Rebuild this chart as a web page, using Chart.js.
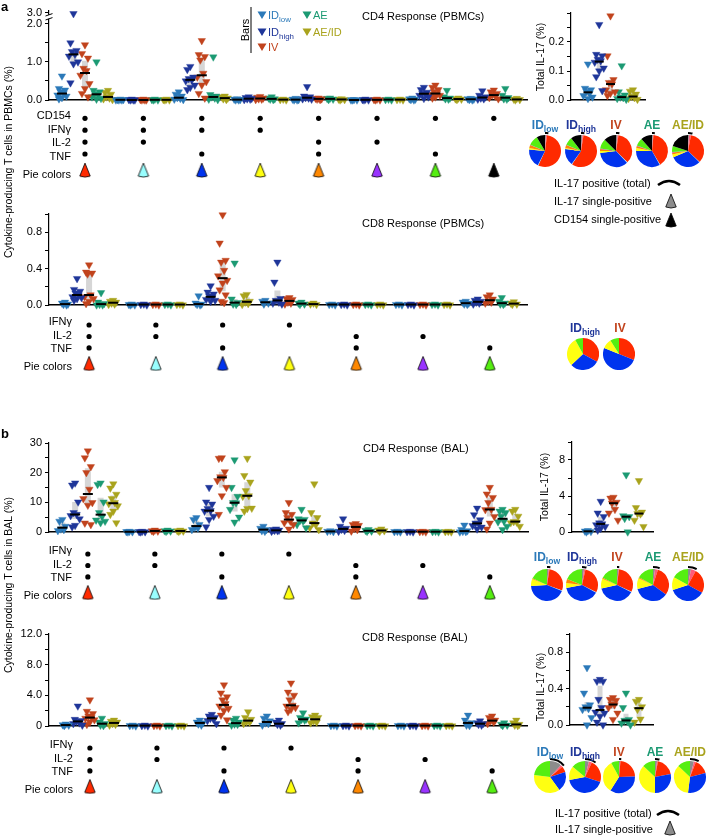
<!DOCTYPE html>
<html><head><meta charset="utf-8">
<script src="https://cdn.jsdelivr.net/npm/chart.js@4.4.1/dist/chart.umd.min.js"></script>
<style>
html,body{margin:0;padding:0;background:#fff}
#root{position:relative;width:706px;height:836px;overflow:hidden;font-family:'Liberation Sans',Arial,Helvetica,sans-serif;color:#000}
#root canvas{position:absolute}
.t{position:absolute;white-space:nowrap;font-size:11px;line-height:13px;z-index:5}
.t sub{font-size:0.72em;vertical-align:baseline;position:relative;top:0.32em;line-height:0}
#glyphs{position:absolute;left:0;top:0;z-index:4}
</style></head><body><div id="root"></div>
<script>
// ================= DATA =================
const seriesNames = ['IDlow', 'IDhigh', 'IV', 'AE', 'AE/ID'];
const seriesLabelsHtml = ['ID<sub>low</sub>', 'ID<sub>high</sub>', 'IV', 'AE', 'AE/ID'];
const seriesColors = ['#2b79b9', '#1f3699', '#c1431d', '#1c9a73', '#a9a31d'];

const cd4Markers = ['CD154', 'IFNγ', 'IL-2', 'TNF'];
const cd8Markers = ['IFNγ', 'IL-2', 'TNF'];
const cd4Combos = [[1,1,1,1],[1,1,1,0],[1,1,0,1],[1,1,0,0],[1,0,1,1],[1,0,1,0],[1,0,0,1],[1,0,0,0]];
const cd8Combos = [[1,1,1],[1,1,0],[1,0,1],[1,0,0],[0,1,1],[0,1,0],[0,0,1]];
const comboColors = ['#ff2a00', '#99ffff', '#0033ee', '#ffff11', '#ff8800', '#9933ff', '#55ee11', '#000000'];
const il17SingleColor = '#8c8c8c';
const il17OtherColor = '#ff5a7a';
// slice order: IL-17 single, other IL-17+, then the 8 combination colours
const pieSliceColors = [il17SingleColor, il17OtherColor, ...comboColors];

// ---- CD4 response, PBMCs (8 combinations) ----
const cd4pbmcIDlow = [[0.63,0.30,0.26,0.22,0.17,0.13,0.10,0.06,0.03],[0.02,0.01,0.01,0,0,0],[0.21,0.15,0.10,0.06,0.04,0.02,0.01],[0.03,0.02,0.01,0,0],[0.04,0.02,0.01,0,0],[0.01,0,0,0],[0.05,0.03,0.02,0.01,0],[0.04,0.03,0.02,0.01,0]];
const cd4pbmcIDhigh = [[2.9,1.5,1.3,1.27,1.2,1.15,1.0,0.95,0.45],[0.02,0.01,0,0,0],[0.88,0.8,0.6,0.56,0.53,0.5,0.39,0.33,0.27],[0.08,0.06,0.04,0.03,0.02,0.01],[0.35,0.1,0.08,0.06,0.05,0.03,0.02],[0.02,0.01,0,0],[0.33,0.27,0.2,0.17,0.16,0.12,0.08,0.04],[0.24,0.12,0.08,0.05,0.03,0.02]];
const cd4pbmcIV = [[1.45,1.22,1.1,0.83,0.77,0.65,0.43,0.3,0.17,0.08],[0.02,0.01,0,0,0],[1.56,1.19,1.14,1.05,0.7,0.6,0.48,0.39,0.17,0.05],[0.09,0.07,0.05,0.03,0.02,0.01],[0.05,0.04,0.03,0.02,0.01],[0.02,0.01,0,0],[0.39,0.33,0.27,0.22,0.17,0.15,0.12,0.08,0.05],[0.26,0.21,0.17,0.13,0.1,0.06,0.03]];
const cd4pbmcAE = [[1.0,0.25,0.21,0.17,0.13,0.08,0.04,0.02],[0.02,0.01,0,0],[1.13,0.14,0.1,0.08,0.05,0.02,0.01],[0.08,0.05,0.03,0.02,0.01],[0.05,0.04,0.02,0.01],[0.02,0.01,0],[0.25,0.08,0.05,0.03,0.02],[0.3,0.12,0.06,0.03,0.02]];
const cd4pbmcAEID = [[0.25,0.2,0.15,0.08,0.05,0.03,0.01],[0.02,0.01,0,0],[0.1,0.08,0.05,0.03,0.01],[0.02,0.01,0],[0.03,0.02,0.01,0],[0.02,0.01,0],[0.05,0.03,0.02,0.01],[0.04,0.02,0.01,0]];
const cd4pbmcTicks = [0, 0.5, 1, 1.5, 2, 3];
const cd4pbmcTickVals = [0, 1, 2, 3];
const cd4pbmcTickLabels = ['0.0', '1.0', '2.0', '3.0'];

// ---- CD4 PBMC total IL-17 ----
const il17cd4pbmc = [[0.124,0.04,0.035,0.03,0.023,0.015,0.01,0.005],[0.26,0.157,0.152,0.14,0.135,0.13,0.11,0.1,0.08,0.032],[0.29,0.152,0.07,0.06,0.055,0.035,0.028,0.023,0.015],[0.118,0.028,0.017,0.01,0.008,0.005,0.002],[0.035,0.03,0.02,0.012,0.008,0.005,0.002]];
const il17cd4pbmcStep = 0.05;
const il17cd4pbmcTickVals = [0, 0.1, 0.2];
const il17cd4pbmcTickLabels = ['0.0', '0.1', '0.2'];

// ---- CD4 PBMC pies (per group: IL17 single, IL17 other, red, cyan, blue, yellow, orange, purple, green, black) ----
const cd4pbmcPies = [[1,1,55,0.5,19,1.5,3,0.5,10,8.5],[1.5,1,57,0.5,17,1,3,0.5,8,10.5],[1.5,1,35,0.5,35,2,2,0.5,10,12.5],[1,0.5,40,0.5,33,3,2,0.5,8,11.5],[1,2,34,0.5,31,3,2,0.5,6,20]];
const cd4pbmcIL17Total = [3, 3, 3, 2.5, 4];

// ---- CD8 response, PBMCs (7 combinations) ----
const cd8pbmcIDlow = [[0.03,0.02,0.01,0.005,0],[0.01,0.005,0,0],[0.1,0.02,0.01,0.005,0],[0.05,0.04,0.02,0.01],[0.01,0.005,0],[0.01,0.005,0],[0.04,0.03,0.02,0.01,0.005]];
const cd8pbmcIDhigh = [[0.29,0.17,0.15,0.13,0.11,0.09,0.08,0.07,0.05],[0.01,0.005,0],[0.21,0.14,0.12,0.1,0.08,0.06,0.05,0.04],[0.47,0.25,0.07,0.05,0.03,0.02,0.01],[0.01,0.005,0],[0.01,0.005,0],[0.065,0.05,0.04,0.03,0.02,0.01]];
const cd8pbmcIV = [[0.44,0.36,0.35,0.34,0.11,0.09,0.07,0.04,0.015],[0.01,0.005,0],[0.99,0.68,0.49,0.47,0.38,0.32,0.27,0.24,0.165,0.11,0.04,0.025],[0.08,0.07,0.06,0.03,0.02,0.01],[0.01,0.005,0],[0.01,0.005,0],[0.11,0.09,0.065,0.04,0.03,0.02]];
const cd8pbmcAE = [[0.135,0.03,0.015,0.005,0,0],[0.01,0.005,0],[0.46,0.065,0.026,0.01,0.005],[0.03,0.02,0.01,0.005],[0.01,0.005,0],[0.01,0.005,0],[0.08,0.04,0.02,0.01,0.005]];
const cd8pbmcAEID = [[0.05,0.04,0.03,0.02,0.01,0.005],[0.01,0.005,0],[0.115,0.1,0.04,0.03,0.015,0.005],[0.02,0.01,0.005],[0.01,0.005,0],[0.01,0.005,0],[0.035,0.02,0.01,0.005]];
const cd8pbmcStep = 0.2;
const cd8pbmcTickVals = [0, 0.4, 0.8];
const cd8pbmcTickLabels = ['0.0', '0.4', '0.8'];
const cd8pbmcPieSeries = [1, 2];
const cd8pbmcPies = [[0,0,33,0,30,29,0,0,8,0],[0,0,31,0,50,10,0,0,9,0]];

// ---- CD4 response, BAL ----
const cd4balIDlow = [[4.2,3.6,1.9,1.0,0.8,0.45],[0.2,0.1,0.05,0],[4.8,4.2,2.5,1.5,1.3,0.8],[1.9,1.2,0.8,0.4,0.2],[0.4,0.2,0.1],[0.2,0.1,0],[2.3,0.8,0.4,0.2,0.1,0]];
const cd4balIDhigh = [[16.5,15.8,10.1,6.5,5.9,5.5,4.4,2.2,1.7],[0.2,0.1,0.05,0],[15,10.1,9.4,7.9,7.2,7,5.3,4.2,1.7],[1.0,0.8,0.6,0.5,0.4,0.2],[4.4,1.9,1.2,0.9,0.5,0.2],[0.2,0.1,0],[8,5.8,4.1,3,2.8,2.1,1.6,1]];
const cd4balIV = [[27.3,25,22,20,14.4,11.2,9.9,9,3,2.5],[0.6,0.4,0.3,0.2],[25,24.8,20.3,18.6,18.4,17.3,15,12.2,5.9],[9.9,6.5,5.9,4.8,3.6,3.1,2.5,1],[2.8,2.5,2.2,1.2,0.8,0.3],[0.2,0.1,0],[15,12.8,11.6,9.9,7.6,7.5,5.2,3,1]];
const cd4balAE = [[16.5,16,10.1,6.5,5.2,4,3.6,3.1],[0.6,0.4,0.3,0.2],[24.3,15,12,9.9,9.8,7.6,5,3.3],[7.6,4.4,4.2,3.9,3.6,2.5,1.4],[0.8,0.5,0.3,0.2],[0.2,0.1,0],[7.6,7,6.5,5.3,3.6,3.4,1.9,0.8]];
const cd4balAEID = [[16.2,14.8,12.7,11.2,9.9,9.5,8.8,7,5.9,3.1],[0.6,0.4,0.3,0.2],[24.8,19,16.8,13.9,12.2,12,8,7.9,7],[16.2,6.5,4.8,3,2.4,1.4,0.8],[1.0,0.6,0.4,0.2],[0.2,0.1,0],[7.6,7,5.3,3.5,3.3,3.1,1.9]];
const cd4balStep = 5;
const cd4balTickVals = [0, 10, 20, 30];
const cd4balTickLabels = ['0', '10', '20', '30'];
const il17cd4bal = [[0.15,0.1,0.05,0],[3.4,2.1,1.7,1.0,0.9,0.8,0.6,0.4,0.2],[3.85,3.75,3.3,3.2,2.5,2.1,1.3],[6.35,1.8,1.7,1.5,0],[5.7,2.7,2.2,2.05,2.0,1.3,0.6]];
const il17cd4balStep = 2;
const il17cd4balTickVals = [0, 4, 8];
const il17cd4balTickLabels = ['0', '4', '8'];
const cd4balPies = [[1.5,1,28,0.5,43,7,1,0,18,0],[2,1.5,29,0.5,39,5,4,0,19,0],[1.5,0.5,30,0.5,39,10,1,0,17.5,0],[2,3,30,0,36,11,1,0,17,0],[3,5,25,0,37,13,0,0,17,0]];
const cd4balIL17Total = [3, 4, 2, 6, 8];

// ---- CD8 response, BAL ----
const cd8balIDlow = [[0.25,0.15,0.1,0.05],[0.1,0.05,0],[0.75,0.5,0.4,0.25,0.1],[1.3,1.0,0.65,0.4,0.3,0.1],[0.1,0.05,0],[0.1,0.05,0],[1.4,0.75,0.4,0.1,0.05]];
const cd8balIDhigh = [[2.6,0.85,0.7,0.6,0.4,0.3,0.1],[0.1,0.05,0],[1.5,1.3,1.1,1.0,0.9,0.7,0.3],[0.75,0.5,0.3,0.2,0.1],[0.1,0.05,0],[0.1,0.05,0],[0.65,0.4,0.3,0.2,0.1]];
const cd8balIV = [[3.4,1.9,1.6,1.3,1.1,1.0,0.8,0.5,0.2],[0.1,0.05,0],[5.35,4.3,3.8,3.4,2.9,2.6,2.3,2.0,1.4,0.8],[5.6,4.4,4.0,3.4,2.7,2.6,2.4,2.15,1.85],[0.1,0.05,0],[0.1,0.05,0],[1.3,1.1,0.75,0.65,0.5,0.3]];
const cd8balAE = [[1.0,0.5,0.3,0.1,0.05],[0.1,0.05,0],[1.0,0.75,0.5,0.25,0.2,0.1],[1.7,1.1,0.9,0.85,0.75,0.4],[0.1,0.05,0],[0.1,0.05,0],[0.4,0.2,0.1,0.05]];
const cd8balAEID = [[0.75,0.6,0.5,0.3,0.2,0.1],[0.1,0.05,0],[1.85,1.1,0.85,0.55,0.5,0.3],[1.4,1.2,1.1,0.65,0.5,0.4],[0.1,0.05,0],[0.1,0.05,0],[0.75,0.4,0.2,0.1,0.05]];
const cd8balStep = 2;
const cd8balTickVals = [0, 4, 8, 12];
const cd8balTickLabels = ['0', '4.0', '8.0', '12.0'];
const il17cd8bal = [[0.63,0.35,0.22,0.2,0.18,0.17,0.08,0.0],[0.5,0.48,0.48,0.28,0.19,0.14,0.13,0.095,0.03,0.0],[0.3,0.28,0.27,0.23,0.22,0.19,0.13,0.06],[0.35,0.19,0.06,0.05,0.04,0.02,0.0],[0.28,0.26,0.2,0.17,0.065,0.03]];
const il17cd8balStep = 0.2;
const il17cd8balTickVals = [0, 0.4, 0.8];
const il17cd8balTickLabels = ['0.0', '0.4', '0.8'];
const cd8balPies = [[12,2,6,0,20,37,0,0,23,0],[4,3,23,0,42,14,0,0,14,0],[1,0.5,23,0,34.5,33,0,0,8,0],[2,1,19,0,28,37,0,0,13,0],[4,2,15,0,31,35,0,0,13,0]];
const cd8balIL17Total = [14, 10, 2, 4, 8];

// ================= SETUP =================
const FONT = "'Liberation Sans', Arial, Helvetica, sans-serif";
Chart.defaults.font.family = FONT;
Chart.defaults.font.size = 11;
Chart.defaults.color = '#000';
Chart.defaults.animation = false;
Chart.defaults.events = [];
Chart.defaults.plugins.legend.display = false;
Chart.defaults.plugins.tooltip.enabled = false;

// broken linear axis: values above BREAK are compressed
const BREAK_AT = 2, BREAK_K = 0.3;
class BrokenScale extends Chart.LinearScale {
  getPixelForValue(v) { return super.getPixelForValue(v == null ? v : (v <= BREAK_AT ? v : BREAK_AT + (v - BREAK_AT) * BREAK_K)); }
  getValueForPixel(p) { const t = super.getValueForPixel(p); return t <= BREAK_AT ? t : BREAK_AT + (t - BREAK_AT) / BREAK_K; }
}
BrokenScale.id = 'broken';
BrokenScale.defaults = Chart.LinearScale.defaults;
Chart.register(BrokenScale);

const root = document.getElementById('root');
function canvasAt(x, y, w, h) {
  const c = document.createElement('canvas');
  w = Math.round(w); h = Math.round(h);
  c.width = w; c.height = h;
  c.style.left = x + 'px'; c.style.top = y + 'px';
  c.style.width = w + 'px'; c.style.height = h + 'px';
  root.appendChild(c);
  return c;
}
function txt(html, x, y, o = {}) {
  const d = document.createElement('div');
  d.className = 't'; d.innerHTML = html;
  d.style.left = x + 'px'; d.style.top = y + 'px';
  if (o.size) d.style.fontSize = o.size + 'px';
  if (o.bold) d.style.fontWeight = 'bold';
  if (o.color) d.style.color = o.color;
  const ax = o.align === 'center' ? '-50%' : o.align === 'right' ? '-100%' : '0';
  d.style.transform = `translate(${ax},-50%)` + (o.rot ? ` rotate(${o.rot}deg)` : '');
  root.appendChild(d);
}
function quantile(sorted, q) {
  const pos = (sorted.length - 1) * q, lo = Math.floor(pos), hi = Math.ceil(pos);
  return sorted[lo] + (sorted[hi] - sorted[lo]) * (pos - lo);
}
function tickList(max, step) {
  const a = [];
  for (let i = 0; i * step <= max + 1e-9; i++) a.push(+(i * step).toFixed(6));
  return a;
}
const JITTER_PX = [0, -3, 3, -1.5, 1.5, -4.5, 4.5, 0, -3, 3, -1.5, 1.5];

function wedgeCanvas(color) {
  const c = document.createElement('canvas');
  c.width = 14; c.height = 16;
  const g = c.getContext('2d');
  const ax = 7, ay = 1, R = 14, a = 22 * Math.PI / 180;
  g.beginPath(); g.moveTo(ax, ay);
  g.arc(ax, ay, R, Math.PI / 2 + a, Math.PI / 2 - a, true);
  g.closePath();
  g.fillStyle = color; g.fill();
  g.lineWidth = 0.8; g.strokeStyle = '#000'; g.stroke();
  return c;
}

function dotPanel(o) {
  const PT = 12, PB = 12, PR = 12;
  const left = o.area.l - o.axisW;
  const cv = canvasAt(left, o.area.t - PT, o.area.r - left + PR, o.area.b - o.area.t + PT + PB);
  const ppu = (o.area.r - o.area.l) / (o.xMax - o.xMin);
  const datasets = [], med = [], bars = [];
  o.groups.forEach((grp, s) => {
    const pts = [];
    grp.forEach((vals, g) => {
      const cx = g + (s - 2) * o.colStep;
      vals.forEach((v, k) => pts.push({ x: cx + JITTER_PX[k % JITTER_PX.length] / ppu, y: v }));
      const sorted = [...vals].sort((a, b) => a - b);
      med.push({ x: cx, y: quantile(sorted, 0.5) });
      bars.push({ x: cx, y: quantile(sorted, 0.25) }, { x: cx, y: quantile(sorted, 0.75) }, { x: cx, y: null });
    });
    datasets.push({ type: 'scatter', data: pts, order: 1, clip: false, pointStyle: 'triangle', pointRotation: 180,
      pointRadius: 4.3, pointBackgroundColor: seriesColors[s], pointBorderColor: seriesColors[s], pointBorderWidth: 0.4 });
  });
  datasets.push({ type: 'scatter', data: med, order: 0, clip: false, pointStyle: 'line', pointRadius: o.medR || 5,
    pointBorderColor: '#000', pointBorderWidth: 2 });
  datasets.push({ type: 'line', data: bars, order: 2, clip: false, showLine: true, spanGaps: false,
    borderColor: '#d6d6d6', borderWidth: o.barW || 6, borderCapStyle: 'butt', pointRadius: 0, tension: 0 });
  const axisW = o.axisW;
  new Chart(cv, {
    type: 'scatter',
    data: { datasets },
    options: {
      responsive: false,
      layout: { padding: { top: PT, bottom: PB, right: PR, left: 0 } },
      scales: {
        x: { type: 'linear', min: o.xMin, max: o.xMax, afterFit: s => { s.height = 0; },
          ticks: { display: false }, grid: { display: false, drawTicks: false },
          border: { display: true, color: '#000', width: 1.6 } },
        y: { type: o.yType || 'linear', min: 0, max: o.yMax, bounds: 'data',
          afterBuildTicks: s => { s.ticks = o.ticks.map(v => ({ value: v })); },
          afterFit: s => { s.width = axisW; },
          ticks: { autoSkip: false, padding: 3, font: { size: 11 }, color: '#000',
            callback: v => { const i = o.tickVals.findIndex(u => Math.abs(u - v) < 1e-9); return i >= 0 ? o.tickLabels[i] : ''; } },
          grid: { display: true, drawOnChartArea: false, drawTicks: true, tickLength: 4, color: '#000', lineWidth: 1 },
          border: { display: true, color: '#000', width: 1.2 } }
      }
    },
    plugins: o.plugins || []
  });
}

const PIE_ROW_GAP = 1.35;
function matrixPanel(o) {
  const n = o.markers.length, pieRow = n - 1 + PIE_ROW_GAP;
  const yMin = -0.7, yMax = pieRow + 0.75;
  const top = o.firstY + yMin * o.rowH;
  const cv = canvasAt(0, top, o.area.r + 12, (yMax - yMin) * o.rowH);
  const dots = [];
  o.combos.forEach((c, g) => c.forEach((f, r) => { if (f) dots.push({ x: g, y: r }); }));
  const tris = o.combos.map((c, g) => ({ x: g, y: pieRow }));
  new Chart(cv, {
    type: 'scatter',
    data: { datasets: [
      { data: dots, pointStyle: 'circle', pointRadius: 2.6, pointBackgroundColor: '#000', pointBorderWidth: 0, clip: false },
      { data: tris, pointStyle: o.colors.map(wedgeCanvas), clip: false }
    ] },
    options: {
      responsive: false,
      layout: { padding: { left: o.area.l, right: 12, top: 0, bottom: 0 } },
      scales: {
        x: { type: 'linear', display: false, min: o.xMin, max: o.xMax },
        y: { type: 'linear', display: false, min: yMin, max: yMax, reverse: true }
      }
    }
  });
  o.markers.forEach((m, r) => txt(m, o.labelRight, o.firstY + r * o.rowH, { align: 'right' }));
  txt('Pie colors', o.labelRight, o.firstY + pieRow * o.rowH, { align: 'right' });
}

const PIE_R = 16, ARC_GAP = 1, ARC_W = 2;
function pieAt(cx, cy, slices, il17Total) {
  const hasArc = il17Total != null;
  const R = hasArc ? PIE_R + ARC_GAP + ARC_W : PIE_R;
  const cv = canvasAt(cx - R, cy - R, 2 * R, 2 * R);
  const ds = [];
  if (hasArc) {
    ds.push({ data: [il17Total, 100 - il17Total], backgroundColor: ['#000', 'rgba(0,0,0,0)'], borderWidth: 0, hoverOffset: 0, weight: ARC_W });
    ds.push({ data: [1], backgroundColor: ['rgba(0,0,0,0)'], borderWidth: 0, hoverOffset: 0, weight: ARC_GAP });
  }
  ds.push({ data: slices, backgroundColor: pieSliceColors, borderWidth: 0, hoverOffset: 0, weight: PIE_R });
  new Chart(cv, { type: 'pie', data: { datasets: ds }, options: { responsive: false, layout: { padding: 0 } } });
}

const breakPlugin = {
  id: 'axisBreak',
  afterDraw(chart) {
    const y = chart.scales.y, ctx = chart.ctx, x = chart.chartArea.left;
    const p1 = y.getPixelForValue(2.45), p2 = y.getPixelForValue(2.8);
    ctx.save();
    ctx.fillStyle = '#fff'; ctx.fillRect(x - 2, p2, 4, p1 - p2);
    ctx.strokeStyle = '#000'; ctx.lineWidth = 1;
    [p1, p2].forEach(p => { ctx.beginPath(); ctx.moveTo(x - 3.5, p + 1.2); ctx.lineTo(x + 3.5, p - 1.2); ctx.stroke(); });
    ctx.restore();
  }
};

// ================= PANEL a: CD4 PBMC =================
dotPanel({ groups: [cd4pbmcIDlow, cd4pbmcIDhigh, cd4pbmcIV, cd4pbmcAE, cd4pbmcAEID],
  area: { l: 49, t: 11, r: 527, b: 100 }, axisW: 49, xMin: -0.616, xMax: 7.568, colStep: 0.197,
  yType: 'broken', yMax: 2.34, ticks: cd4pbmcTicks, tickVals: cd4pbmcTickVals, tickLabels: cd4pbmcTickLabels, plugins: [breakPlugin] });
matrixPanel({ combos: cd4Combos, markers: cd4Markers, colors: comboColors, area: { l: 49, r: 527 },
  firstY: 115, rowH: 13.6, xMin: -0.616, xMax: 7.568, labelRight: 71 });
dotPanel({ groups: il17cd4pbmc.map(v => [v]), area: { l: 571, t: 13, r: 645, b: 100 }, axisW: 40,
  xMin: -3.51, xMax: 3.07, colStep: 1, yMax: 0.3, ticks: tickList(0.3, il17cd4pbmcStep),
  tickVals: il17cd4pbmcTickVals, tickLabels: il17cd4pbmcTickLabels, barW: 5, medR: 4.5 });
[545, 581, 616, 652, 688].forEach((x, i) => {
  txt(seriesLabelsHtml[i], x, 125, { align: 'center', bold: true, size: 12, color: seriesColors[i] });
  pieAt(x, 151, cd4pbmcPies[i], cd4pbmcIL17Total[i]);
});

// CD8 PBMC
dotPanel({ groups: [cd8pbmcIDlow, cd8pbmcIDhigh, cd8pbmcIV, cd8pbmcAE, cd8pbmcAEID],
  area: { l: 49, t: 214, r: 527, b: 305 }, axisW: 49, xMin: -0.6, xMax: 6.557, colStep: 0.18,
  yMax: 1.0, ticks: tickList(1.0, cd8pbmcStep), tickVals: cd8pbmcTickVals, tickLabels: cd8pbmcTickLabels });
matrixPanel({ combos: cd8Combos, markers: cd8Markers, colors: comboColors.slice(0, 7), area: { l: 49, r: 527 },
  firstY: 321, rowH: 13.5, xMin: -0.6, xMax: 6.557, labelRight: 72 });
[[583, 585], [619, 620]].forEach(([px, lx], j) => {
  const s = cd8pbmcPieSeries[j];
  txt(seriesLabelsHtml[s], lx, 328, { align: 'center', bold: true, size: 12, color: seriesColors[s] });
  pieAt(px, 354, cd8pbmcPies[j], null);
});

// ================= PANEL b: CD4 BAL =================
dotPanel({ groups: [cd4balIDlow, cd4balIDhigh, cd4balIV, cd4balAE, cd4balAEID],
  area: { l: 49, t: 443, r: 528, b: 532 }, axisW: 49, xMin: -0.58, xMax: 6.57, colStep: 0.19,
  yMax: 30, ticks: tickList(30, cd4balStep), tickVals: cd4balTickVals, tickLabels: cd4balTickLabels });
matrixPanel({ combos: cd8Combos, markers: cd8Markers, colors: comboColors.slice(0, 7), area: { l: 49, r: 528 },
  firstY: 550, rowH: 13.5, xMin: -0.58, xMax: 6.57, labelRight: 72 });
dotPanel({ groups: il17cd4bal.map(v => [v]), area: { l: 572, t: 442, r: 653, b: 532 }, axisW: 40,
  xMin: -3.25, xMax: 3.1, colStep: 1, yMax: 10, ticks: tickList(10, il17cd4balStep),
  tickVals: il17cd4balTickVals, tickLabels: il17cd4balTickLabels, barW: 5, medR: 4.5 });
[547, 582, 617, 653, 688].forEach((x, i) => {
  txt(seriesLabelsHtml[i], x, 557, { align: 'center', bold: true, size: 12, color: seriesColors[i] });
  pieAt(x, 585, cd4balPies[i], cd4balIL17Total[i]);
});

// CD8 BAL
dotPanel({ groups: [cd8balIDlow, cd8balIDhigh, cd8balIV, cd8balAE, cd8balAEID],
  area: { l: 49, t: 634, r: 527, b: 726 }, axisW: 49, xMin: -0.61, xMax: 6.52, colStep: 0.18,
  yMax: 12, ticks: tickList(12, cd8balStep), tickVals: cd8balTickVals, tickLabels: cd8balTickLabels });
matrixPanel({ combos: cd8Combos, markers: cd8Markers, colors: comboColors.slice(0, 7), area: { l: 49, r: 527 },
  firstY: 744, rowH: 13.5, xMin: -0.61, xMax: 6.52, labelRight: 73 });
dotPanel({ groups: il17cd8bal.map(v => [v]), area: { l: 570, t: 634, r: 653, b: 725 }, axisW: 40,
  xMin: -3.31, xMax: 3.08, colStep: 1, yMax: 1.0, ticks: tickList(1.0, il17cd8balStep),
  tickVals: il17cd8balTickVals, tickLabels: il17cd8balTickLabels, barW: 5, medR: 4.5 });
[550, 585, 619, 655, 690].forEach((x, i) => {
  txt(seriesLabelsHtml[i], x, 752, { align: 'center', bold: true, size: 12, color: seriesColors[i] });
  pieAt(x, 777, cd8balPies[i], cd8balIL17Total[i]);
});

// ================= TEXT =================
txt('a', 1, 6, { bold: true, size: 13 });
txt('b', 1, 433, { bold: true, size: 13 });
txt('Cytokine-producing T cells in PBMCs (%)', 8, 162, { align: 'center', rot: -90, size: 10.5 });
txt('Cytokine-producing T cells in BAL (%)', 8, 585, { align: 'center', rot: -90, size: 10.5 });
txt('Total IL-17 (%)', 540, 57, { align: 'center', rot: -90, size: 10.5 });
txt('Total IL-17 (%)', 544, 487, { align: 'center', rot: -90, size: 10.5 });
txt('Total IL-17 (%)', 540, 687, { align: 'center', rot: -90, size: 10.5 });
txt('CD4 Response (PBMCs)', 362, 16);
txt('CD8 Response (PBMCs)', 362, 223);
txt('CD4 Response (BAL)', 363, 448);
txt('CD8 Response (BAL)', 362, 637);
txt('Bars', 245, 30, { align: 'center', rot: -90 });
const legendPos = [[262, 15], [262, 32], [262, 47], [307, 15], [307, 32]];
legendPos.forEach(([x, y], i) => txt(seriesLabelsHtml[i], x + 6, y, { color: seriesColors[i] }));
txt('IL-17 positive (total)', 554, 183);
txt('IL-17 single-positive', 554, 201);
txt('CD154 single-positive', 554, 219);
txt('IL-17 positive (total)', 555, 813);
txt('IL-17 single-positive', 555, 829);

// ================= LEGEND GLYPHS =================
function wedgePath(cx, cy, color) {
  const R = 14, a = 22 * Math.PI / 180, ay = cy - 7;
  const lx = cx - R * Math.sin(a), rx = cx + R * Math.sin(a), by = ay + R * Math.cos(a);
  return `<path d="M ${cx} ${ay} L ${lx} ${by} A ${R} ${R} 0 0 0 ${rx} ${by} Z" fill="${color}" stroke="#000" stroke-width="0.8"/>`;
}
function arcPath(cx, cy) {
  return `<path d="M ${cx - 11} ${cy + 3} Q ${cx} ${cy - 5} ${cx + 11} ${cy + 3}" fill="none" stroke="#000" stroke-width="2.6"/>`;
}
let g = '';
g += `<line x1="251" y1="7" x2="251" y2="53" stroke="#000" stroke-width="1"/>`;
legendPos.forEach(([x, y], i) => {
  g += `<polygon points="${x - 4.5},${y - 3.5} ${x + 4.5},${y - 3.5} ${x},${y + 4}" fill="${seriesColors[i]}"/>`;
});
g += arcPath(669, 182) + wedgePath(671, 201, il17SingleColor) + wedgePath(671, 220, '#000');
g += arcPath(668, 812) + wedgePath(670, 828, il17SingleColor);
const svg = document.createElementNS('http://www.w3.org/2000/svg', 'svg');
svg.setAttribute('id', 'glyphs'); svg.setAttribute('width', '706'); svg.setAttribute('height', '836');
svg.innerHTML = g;
root.appendChild(svg);
</script></body></html>
